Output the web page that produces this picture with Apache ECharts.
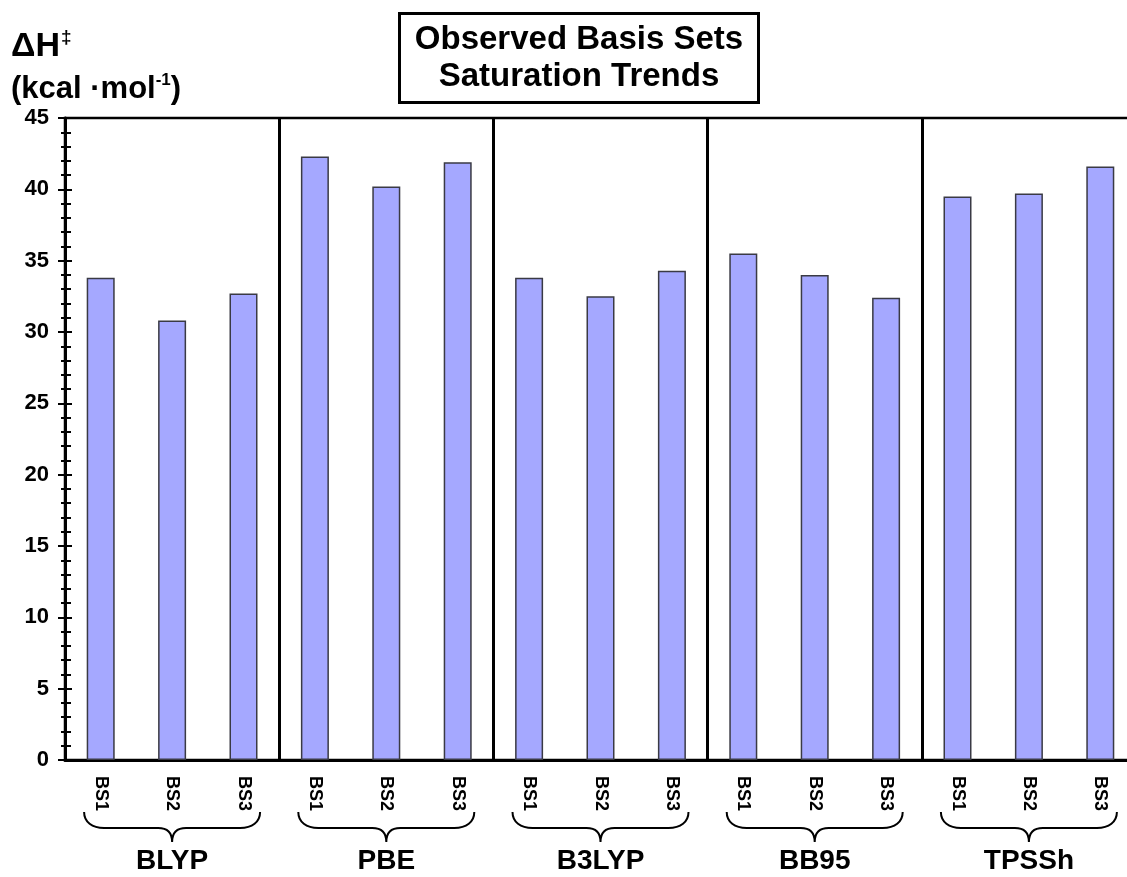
<!DOCTYPE html>
<html>
<head>
<meta charset="utf-8">
<title>Observed Basis Sets Saturation Trends</title>
<script src="https://cdn.jsdelivr.net/npm/echarts@6/dist/echarts.min.js"></script>
<style>
  html, body { margin: 0; padding: 0; background: #fff; overflow: hidden; }
  /* the plot runs a little past the right edge of the window, as in the original */
  #main { width: 1136px; height: 877px; }
</style>
</head>
<body>
<div id="main"></div>
<script>
// data
var groups = ['BLYP', 'PBE', 'B3LYP', 'BB95', 'TPSSh'];
var basisSets = ['BS1', 'BS2', 'BS3'];
var blyp  = [33.8, 30.8, 32.7];
var pbe   = [42.3, 40.2, 41.9];
var b3lyp = [33.8, 32.5, 34.3];
var bb95  = [35.5, 34.0, 32.4];
var tpssh = [39.5, 39.7, 41.6];

var font = 'Liberation Sans, Arial, Helvetica, sans-serif';

var categories = [];
groups.forEach(function () { categories = categories.concat(basisSets); });
var values = [].concat(blyp, pbe, b3lyp, bb95, tpssh);

var chart = echarts.init(document.getElementById('main'));

// curly brace under each group
function renderBrace(params, api) {
  var p = api.coord([api.value(0), 0]);
  var c = p[0], y = p[1];
  var w = 88;
  var t = y + 52, m = y + 68, b = y + 82;
  var d = 'M' + (c - w) + ',' + t +
    ' C' + (c - w) + ',' + (t + 10) + ' ' + (c - w + 8) + ',' + m + ' ' + (c - w + 20) + ',' + m +
    ' L' + (c - 14) + ',' + m +
    ' C' + (c - 6) + ',' + m + ' ' + c + ',' + (m + 4) + ' ' + c + ',' + b +
    ' C' + c + ',' + (m + 4) + ' ' + (c + 6) + ',' + m + ' ' + (c + 14) + ',' + m +
    ' L' + (c + w - 20) + ',' + m +
    ' C' + (c + w - 8) + ',' + m + ' ' + (c + w) + ',' + (t + 10) + ' ' + (c + w) + ',' + t;
  return {
    type: 'path',
    shape: { pathData: d },
    style: { fill: 'none', stroke: '#000', lineWidth: 2 }
  };
}

var option = {
  backgroundColor: '#fff',
  animation: false,
  title: [
    {
      text: 'Observed Basis Sets\nSaturation Trends',
      left: 563,
      top: 13,
      textAlign: 'center',
      padding: [8, 16],
      borderColor: '#000',
      borderWidth: 3,
      textStyle: { fontFamily: font, fontSize: 33, fontWeight: 'bold', color: '#000', lineHeight: 37 }
    },
    {
      text: '{a|ΔH}{s|‡}\n{b|(kcal ·mol}{t|-1}{b|)}',
      left: 11,
      top: 26,
      padding: 0,
      textStyle: {
        rich: {
          a: { fontFamily: font, fontSize: 34, fontWeight: 'bold', color: '#000', lineHeight: 42 },
          s: { fontFamily: font, fontSize: 19, color: '#000', verticalAlign: 'top', lineHeight: 42, padding: [2, 0, 0, 1] },
          b: { fontFamily: font, fontSize: 31, fontWeight: 'bold', color: '#000', lineHeight: 42 },
          t: { fontFamily: font, fontSize: 17, fontWeight: 'bold', color: '#000', verticalAlign: 'top', lineHeight: 42, padding: [4, 0, 0, 0] }
        }
      }
    }
  ],
  grid: {
    left: 65, right: 0, top: 118, bottom: 117,
    show: true, borderColor: '#000', borderWidth: 2.5
  },
  xAxis: [
    {
      type: 'category',
      data: categories,
      position: 'bottom',
      axisLine: { lineStyle: { color: '#000', width: 3 } },
      axisTick: { show: false },
      axisLabel: {
        rotate: -90, margin: 16, interval: 0,
        fontFamily: font, fontSize: 18, fontWeight: 'bold', color: '#000'
      },
      splitLine: {
        show: true,
        interval: function (i) { return i % 3 === 0; },
        lineStyle: { color: '#000', width: 3 }
      }
    },
    {
      type: 'category',
      data: groups,
      position: 'bottom',
      axisLine: { show: false },
      axisTick: { show: false },
      splitLine: { show: false },
      axisLabel: {
        margin: 87, interval: 0,
        fontFamily: font, fontSize: 28, fontWeight: 'bold', color: '#000'
      }
    }
  ],
  yAxis: [
    {
      type: 'value', min: 0, max: 45, interval: 5, position: 'left',
      axisLine: { show: true, lineStyle: { color: '#000', width: 3 } },
      axisTick: { show: true, inside: false, length: 7, lineStyle: { color: '#000', width: 2 } },
      minorTick: { show: true, splitNumber: 5, length: 4, lineStyle: { color: '#000', width: 2 } },
      axisLabel: { margin: 16, fontFamily: font, fontSize: 22, fontWeight: 'bold', color: '#000' },
      splitLine: { show: false }
    },
    {
      type: 'value', min: 0, max: 45, interval: 5, position: 'left',
      axisLine: { show: false },
      axisTick: { show: true, inside: true, length: 7, lineStyle: { color: '#000', width: 2 } },
      minorTick: { show: true, splitNumber: 5, length: 6, lineStyle: { color: '#000', width: 2 } },
      axisLabel: { show: false },
      splitLine: { show: false }
    }
  ],
  series: [
    {
      type: 'bar',
      xAxisIndex: 0,
      yAxisIndex: 0,
      data: values,
      barWidth: 28,
      itemStyle: { color: '#a5a8ff', borderColor: '#3a3a44', borderWidth: 1.5 }
    },
    {
      type: 'custom',
      xAxisIndex: 1,
      yAxisIndex: 0,
      clip: false,
      silent: true,
      data: groups.map(function (g, i) { return [i, 0]; }),
      renderItem: renderBrace
    }
  ]
};

chart.setOption(option);
</script>
</body>
</html>
